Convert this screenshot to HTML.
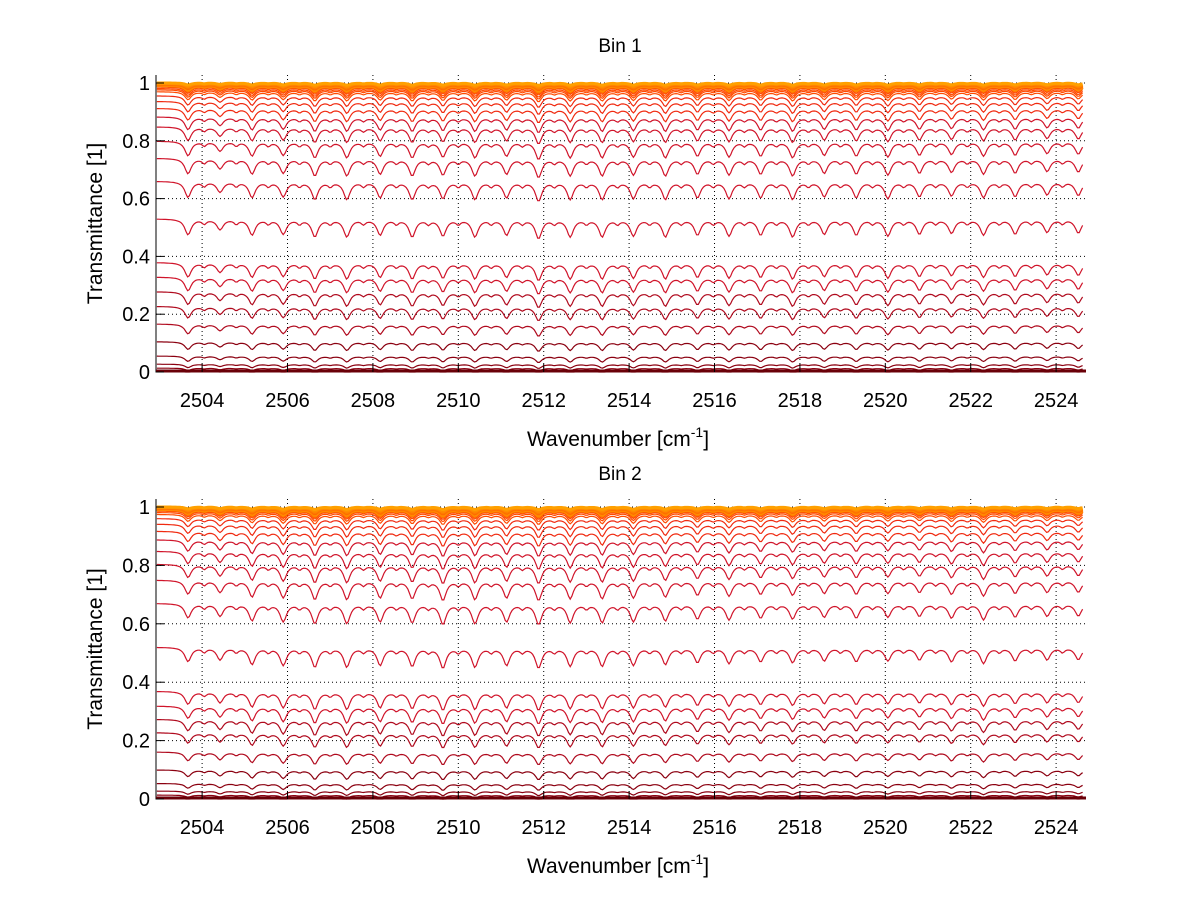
<!DOCTYPE html>
<html><head><meta charset="utf-8"><style>
body{margin:0;background:#fff;}
svg text{font-family:"Liberation Sans",sans-serif;fill:#000;}
</style></head><body>
<svg id="chart" width="1200" height="901" viewBox="0 0 1200 901" xmlns="http://www.w3.org/2000/svg">
<rect width="1200" height="901" fill="#fff"/>
</svg>
<script>
// ---- data ----
const xTicks = [2504,2506,2508,2510,2512,2514,2516,2518,2520,2522,2524];
const yTicks = [0,0.2,0.4,0.6,0.8,1];
const binTitles = ["Bin 1","Bin 2"];
const lineCenters = [2503.67,2504.42,2505.17,2505.9,2506.64,2507.39,2508.17,2508.92,2509.64,2510.39,2511.13,2511.88,2512.62,2513.37,2514.1,2514.85,2515.6,2516.34,2517.08,2517.83,2518.57,2519.32,2520.06,2520.8,2521.55,2522.3,2523.04,2523.79,2524.52];
const lineDepthsBin1 = [0.9,0.6,0.9,0.85,1.0,1.0,0.9,1.0,0.95,1.0,0.9,1.1,1.0,1.0,0.95,1.0,0.9,0.95,0.9,1.0,0.85,0.9,0.95,0.85,0.8,0.9,0.85,0.75,0.8];
const lineDepthsBin2 = [0.8,0.7,0.95,1.0,1.1,1.1,1.0,1.05,1.15,1.1,1.0,1.15,1.05,1.05,1.0,0.95,0.85,0.9,0.8,0.85,0.75,0.8,0.75,0.7,0.8,0.9,0.75,0.7,0.7];
const minorCenters = [2504.05,2504.8,2505.55,2506.28,2507.0,2507.78,2508.55,2509.3,2510.0,2510.77,2511.5,2512.25,2513.0,2513.73,2514.48,2515.22,2515.97,2516.7,2517.45,2518.2,2518.95,2519.7,2520.43,2521.18,2521.92,2522.67,2523.42,2524.15];
const levelsBin1 = [0.999,0.997,0.995,0.993,0.99,0.988,0.985,0.982,0.977,0.972,0.965,0.95,0.93,0.905,0.875,0.84,0.79,0.73,0.65,0.52,0.37,0.32,0.27,0.22,0.16,0.1,0.052,0.025,0.012,0.005,0.001];
const levelsBin2 = [0.999,0.997,0.995,0.993,0.99,0.988,0.985,0.982,0.977,0.97,0.955,0.935,0.91,0.88,0.84,0.795,0.74,0.66,0.51,0.36,0.31,0.265,0.22,0.155,0.095,0.05,0.025,0.012,0.005,0.001];

// ---- layout ----
const NS="http://www.w3.org/2000/svg";
const svg=document.getElementById('chart');
const panels=[
 {left:156,right:1086,y1:83,y0:372,top:75,title:45},
 {left:156,right:1086,y1:507,y0:799,top:499,title:473}
];
const X0=2502.92,X1=2524.7;
function mk(tag,attrs,parent){const e=document.createElementNS(NS,tag);for(const k in attrs)e.setAttribute(k,attrs[k]);(parent||svg).appendChild(e);return e;}

function tau(nu,depths){
  let t=0;
  for(let i=0;i<lineCenters.length;i++){const d=(nu-lineCenters[i])/0.09;t+=depths[i]/(1+d*d);}
  for(let i=0;i<minorCenters.length;i++){const d=(nu-minorCenters[i])/0.06;t+=0.25/(1+d*d);}
  return t;
}
function colorFor(b){
  if(b>0.985) return ['#ffa000','#ff8c00','#ff7a00','#ff6a00'][Math.floor((1-b)*500)%4];
  if(b>0.96) return '#ff4a00';
  if(b>0.9) return '#f02a10';
  if(b>0.3) return '#d0142a';
  if(b>0.1) return '#b00a1e';
  return '#8b0010';
}

panels.forEach((p,pi)=>{
  const g=mk('g',{});
  
  
  const xs=v=>p.left+(v-X0)/(X1-X0)*(p.right-p.left);
  const ys=v=>p.y0-v*(p.y0-p.y1);
  xTicks.forEach(t=>{const l=mk('line',{x1:xs(t),x2:xs(t),y1:p.top,y2:p.y0,stroke:'#000','stroke-width':1,'stroke-dasharray':'1,3'},g);
    });
  yTicks.forEach(t=>{const l=mk('line',{x1:p.left,x2:p.right,y1:ys(t),y2:ys(t),stroke:'#000','stroke-width':1,'stroke-dasharray':'1,3'},g);
    });
  const levels=pi===0?levelsBin1:levelsBin2;
  const depths=pi===0?lineDepthsBin1:lineDepthsBin2;
  const ordered=levels.slice().sort((a,b)=>a-b);
  ordered.forEach((b,k)=>{
    const gf=Math.pow(b,0.6)*Math.pow(1-b,0.4);
    let d='';
    for(let nu=X0+0.02;nu<=X1-0.05;nu+=0.04){
      let v=b-0.12*gf*tau(nu,depths)+0.02*gf;
      v=Math.max(0,Math.min(1.005,v));
      d+=(d?'L':'M')+xs(nu).toFixed(1)+','+ys(v).toFixed(1);
    }
    const path=mk('path',{d:d,fill:'none',stroke:colorFor(b),'stroke-width':b>0.985?3:1.2},g);
    
    
  });
  const ax=mk('path',{d:`M${p.left},${p.top}V${p.y0}H${p.right}`,fill:'none',stroke:'#000','stroke-width':1},g);
  
  const base=mk('line',{x1:p.left,x2:p.right,y1:p.y0-1,y2:p.y0-1,stroke:'#6a0008','stroke-width':3},g);
  
  xTicks.forEach(t=>{
    mk('line',{x1:xs(t),x2:xs(t),y1:p.y0,y2:p.y0-8,stroke:'#000'},g);
    const tx=mk('text',{x:xs(t),y:p.y0+35,'font-size':20,'text-anchor':'middle'},g);tx.textContent=t;
    
  });
  yTicks.forEach(t=>{
    mk('line',{x1:p.left,x2:p.left+8,y1:ys(t),y2:ys(t),stroke:'#000'},g);
    const tx=mk('text',{x:p.left-6,y:ys(t)+7,'font-size':20,'text-anchor':'end'},g);tx.textContent=(t===0||t===1)?String(t):t.toFixed(1);
    
  });
  const tt=mk('text',{x:620,y:p.title+7,'font-size':19,'text-anchor':'middle'},g);tt.textContent=binTitles[pi];
  
  const xl=mk('text',{x:618,y:p.y0+74,'font-size':21,'text-anchor':'middle'},g);
  xl.innerHTML='Wavenumber [cm<tspan dy="-9" font-size="14">-1</tspan><tspan dy="9">]</tspan>';
  
  const cy=(p.top+p.y0)/2;
  const yl=mk('text',{x:0,y:0,'font-size':21,'text-anchor':'middle',transform:`translate(102,${cy}) rotate(-90)`},g);
  yl.textContent='Transmittance [1]';
  
});
</script>
</body></html>
